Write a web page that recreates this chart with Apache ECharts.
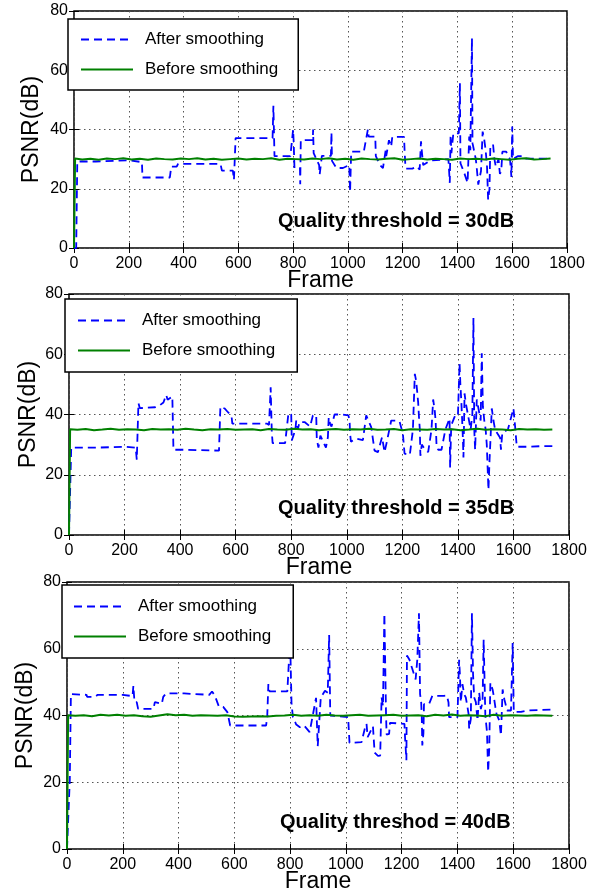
<!DOCTYPE html>
<html>
<head>
<meta charset="utf-8">
<script src="https://cdn.jsdelivr.net/npm/echarts@6/dist/echarts.min.js"></script>
<style>
  html, body { margin: 0; padding: 0; background: #fff; }
  #main { width: 601px; height: 894px; }
</style>
</head>
<body>
<div id="main"></div>
<script>
// x ticks, y ticks
const frameTicks = [0, 200, 400, 600, 800, 1000, 1200, 1400, 1600, 1800];
const psnrTicks = [0, 20, 40, 60, 80];
const seriesNames = ["After smoothing", "Before smoothing"];
const notes = ["Quality threshold = 30dB", "Quality threshold = 35dB", "Quality threshod = 40dB"];

// "After smoothing" traces, [frame, PSNR]
const after30 = [[0,0],[8,0],[12,29.2],[80,29.2],[82,29.6],[200,29.6],[205,29],[248,29],[250,23.8],[350,23.8],[355,27.5],[375,27.5],[380,28.4],[535,28.4],[540,26.1],[580,26.1],[584,23],[590,37.1],[725,37.1],[728,48],[732,31],[790,31],[800,40],[802,36],[805,27],[825,27],[826,21.5],[828,36.4],[872,36.5],[873,40],[875,32],[885,30],[895,28],[897,24.8],[905,31.1],[938,31.1],[940,39],[942,29.4],[958,27],[982,27],[1005,28],[1008,19],[1012,32.5],[1058,32.5],[1073,40],[1076,37.6],[1100,37.6],[1102,31],[1117,28],[1128,27],[1138,33],[1140,31],[1150,36.4],[1158,34.2],[1162,37.5],[1205,37.5],[1207,33],[1210,27.5],[1213,26.8],[1235,26.8],[1253,27.5],[1262,26.4],[1267,36],[1270,32.6],[1275,28],[1300,29.5],[1367,30],[1372,22],[1375,38.2],[1378,32],[1385,38.7],[1405,38.7],[1409,55.6],[1411,28.6],[1425,25.3],[1437,22],[1443,37.6],[1447,33],[1453,70.8],[1455,35.4],[1467,30],[1470,27.5],[1476,21.4],[1486,26],[1492,39.3],[1498,36.5],[1503,33],[1508,27.5],[1512,16.3],[1517,20],[1520,34],[1530,35],[1535,30],[1540,27.5],[1550,30],[1555,25],[1560,26],[1564,32.5],[1578,32.5],[1585,31],[1592,30],[1597,24],[1600,41],[1603,30],[1620,31],[1640,31],[1650,30.2],[1740,30.2]];
const after35 = [[0,0],[4,0],[8,29],[100,29],[105,29.3],[200,29.3],[240,29],[244,25],[250,43.8],[255,42.1],[310,42.4],[326,43],[340,44],[350,46.5],[355,44.9],[372,46],[376,28.3],[420,28.3],[540,28],[543,27.5],[545,42.6],[560,42],[570,41],[585,39.5],[588,37],[712,37],[720,36.5],[726,49],[730,34.3],[733,30.5],[778,30.5],[790,40.4],[800,40],[802,31.4],[815,35],[818,38],[824,35.2],[830,37.5],[848,37.5],[868,36],[878,39.7],[890,39.7],[892,31.8],[898,29],[905,33],[925,29],[932,32.5],[935,39],[940,37],[945,36],[956,40],[982,40],[1006,39.7],[1010,38],[1012,33.5],[1015,31],[1034,32],[1058,31.5],[1070,39.7],[1080,37.5],[1088,35.8],[1100,28],[1112,27.5],[1127,32.5],[1136,27.5],[1142,30],[1160,38],[1178,38],[1190,37.7],[1202,33.6],[1208,27],[1227,26.6],[1238,35],[1245,53.5],[1250,51],[1257,44],[1260,39],[1263,35],[1265,26.3],[1270,30],[1281,28.5],[1293,27.5],[1305,35],[1311,45],[1317,41],[1320,37.6],[1323,30],[1329,28.3],[1341,28.3],[1355,35],[1370,38.7],[1372,22.4],[1376,36.4],[1388,39.2],[1400,39.2],[1406,57],[1409,49.9],[1412,45],[1415,39],[1418,32],[1420,25.7],[1424,47],[1428,44],[1432,42],[1436,40],[1446,35],[1452,40],[1456,72],[1459,35],[1462,28.3],[1468,45],[1476,41],[1482,38],[1486,60.3],[1490,42.6],[1495,38],[1500,35],[1504,30],[1510,15],[1514,25],[1518,33],[1522,42],[1528,38],[1534,35],[1540,34],[1552,32.3],[1555,28.3],[1560,34],[1580,35],[1600,42],[1606,36],[1612,29.3],[1660,29.3],[1700,29.5],[1740,29.5]];
const after40 = [[0,0],[6,0],[10,20.7],[14,46.4],[70,46.2],[72,45.6],[100,45.6],[110,46.2],[200,46.2],[205,45.8],[235,45.8],[238,48.9],[242,44],[250,44],[255,42],[310,42],[315,44],[340,43.5],[345,45.6],[355,46.6],[420,46.6],[510,46.2],[520,47.2],[530,46],[545,42.6],[560,42.6],[575,41],[585,37],[714,37],[718,39.8],[722,49.4],[726,47.2],[790,47.2],[797,47],[800,63],[805,43.8],[810,39.5],[822,37.3],[835,36.5],[850,37],[870,35],[893,45.3],[899,30.8],[905,30.6],[910,45.4],[925,47.4],[935,46.8],[940,64.1],[944,40],[1008,39.5],[1013,31.8],[1056,32],[1070,36.8],[1074,37.5],[1078,33.5],[1097,36.8],[1103,28.9],[1115,27.9],[1123,28],[1128,45.4],[1133,42.8],[1138,70.5],[1144,40],[1146,34.3],[1155,34.5],[1158,37.8],[1210,37.5],[1212,33.6],[1217,26.6],[1219,58],[1228,56.7],[1238,54],[1250,50.8],[1256,56.7],[1262,70.6],[1266,46.4],[1270,43.9],[1272,40],[1274,31],[1278,34.6],[1280,43.4],[1298,43.4],[1310,45.9],[1352,45.9],[1362,46],[1368,43.9],[1370,39.5],[1400,39.5],[1406,56.7],[1409,52],[1412,44],[1418,49.4],[1424,46.4],[1430,45.4],[1436,42.5],[1440,40.4],[1442,36],[1448,39],[1452,70.6],[1456,52.3],[1460,45.4],[1466,44],[1472,38.5],[1478,46.9],[1484,41.9],[1490,44],[1494,62.7],[1500,40],[1506,35],[1510,23.1],[1514,30],[1518,49.8],[1526,47.8],[1530,45.9],[1536,42.5],[1540,40.5],[1550,38.5],[1556,34],[1562,47.8],[1568,44.9],[1578,41.5],[1592,41.5],[1598,61.7],[1602,41.1],[1628,41.1],[1650,41.5],[1740,41.8]];

// "Before smoothing" traces share one frame list
const beforeFrames = [0,4,30,60,90,120,150,180,210,240,270,300,330,360,390,420,450,480,510,540,570,600,630,660,690,720,750,780,810,840,870,900,930,960,990,1020,1050,1080,1110,1140,1170,1200,1230,1260,1290,1320,1350,1380,1410,1440,1470,1500,1530,1560,1590,1620,1650,1680,1710,1740];
const before30 = [0,30.2,29.9,30.1,29.8,30.2,30.0,30.3,29.9,30.1,
  29.8,30.2,30.0,29.9,30.2,30.0,30.3,29.9,30.1,29.8,
  30.0,30.2,29.9,30.1,30.0,30.3,29.8,30.1,30.0,29.9,
  30.2,30.0,30.3,29.9,30.1,29.8,30.2,30.0,29.9,30.1,
  30.3,29.8,30.0,30.2,29.9,30.1,30.0,29.8,30.2,30.0,
  30.1,29.9,30.2,30.0,29.8,30.1,30.3,29.9,30.0,30.2];
const before35 = [0,35.1,34.9,35.2,34.8,35.0,35.3,34.9,35.1,35.0,
  34.8,35.2,35.0,35.1,34.9,35.3,35.0,34.8,35.1,35.0,
  35.2,34.9,35.0,35.1,34.8,35.2,35.0,34.9,35.3,35.0,
  35.1,34.8,35.0,35.2,34.9,35.1,35.0,35.3,34.9,35.0,
  35.2,34.8,35.1,35.0,34.9,35.2,35.0,35.1,34.8,35.0,
  35.3,34.9,35.1,35.0,34.8,35.2,35.0,35.1,34.9,35.0];
const before40 = [0,40.1,39.9,40.1,39.8,40.2,40.0,40.2,39.9,40.1,
  39.8,39.6,40.0,40.4,40.1,40.2,39.9,40.1,40.0,39.9,
  40.1,39.7,39.6,39.7,39.8,39.7,39.9,40.0,40.2,39.9,
  40.1,39.9,40.2,40.0,39.9,40.1,40.2,39.9,40.0,40.1,
  40.2,39.9,40.0,40.1,39.8,40.2,40.0,40.3,39.9,40.1,
  40.0,39.8,40.2,39.9,40.1,40.0,39.9,40.1,40.0,39.9];

const afterSets = [after30, after35, after40];
const beforeSets = [before30, before35, before40];

const font = "'Liberation Sans', Arial, sans-serif";

// panel boxes in px
const panels = [
  { left: 74, top: 11, width: 493, height: 237, yGap: 31, legend: { left: 68, top: 19, pad: [12, 20, 12, 12] }, note: { x: 278, y: 211 } },
  { left: 69, top: 294, width: 500, height: 241, yGap: 29, legend: { left: 65, top: 299, pad: [13, 22, 13, 12] }, note: { x: 278, y: 498 } },
  { left: 67, top: 582, width: 502, height: 270, yGap: 30, legend: { left: 62, top: 585, pad: [13, 22, 13, 11] }, note: { x: 280, y: 812 } },
];

const grid = [], xAxis = [], yAxis = [], series = [], legend = [], graphic = [];

panels.forEach((p, i) => {
  grid.push({
    left: p.left, top: p.top, width: p.width, height: p.height,
    show: true, borderColor: "#000", borderWidth: 1.5, backgroundColor: "#fff",
  });
  const tick = { show: true, inside: true, length: 5, lineStyle: { color: "#000", width: 1 } };
  const dots = { show: true, lineStyle: { color: "#555", width: 1, type: [1.5, 3.5] } };
  xAxis.push({
    gridIndex: i, type: "value", min: frameTicks[0], max: frameTicks[frameTicks.length - 1],
    interval: frameTicks[1] - frameTicks[0], position: "bottom",
    axisLine: { show: false }, axisTick: tick, splitLine: dots,
    axisLabel: { color: "#000", fontSize: 16, fontFamily: font, margin: 8, formatter: (v) => String(v) },
    name: "Frame", nameLocation: "middle", nameGap: 21, nameMoveOverlap: false,
    nameTextStyle: { color: "#000", fontSize: 23, fontFamily: font },
  });
  xAxis.push({
    gridIndex: i, type: "value", min: frameTicks[0], max: frameTicks[frameTicks.length - 1],
    interval: frameTicks[1] - frameTicks[0], position: "top",
    axisLine: { show: false }, axisTick: tick, splitLine: { show: false }, axisLabel: { show: false },
  });
  yAxis.push({
    gridIndex: i, type: "value", min: psnrTicks[0], max: psnrTicks[psnrTicks.length - 1],
    interval: psnrTicks[1] - psnrTicks[0], position: "left",
    axisLine: { show: false }, axisTick: tick, splitLine: dots,
    axisLabel: { color: "#000", fontSize: 16, fontFamily: font, margin: 6 },
    name: "PSNR(dB)", nameLocation: "middle", nameGap: p.yGap, nameMoveOverlap: false,
    nameTextStyle: { color: "#000", fontSize: 23, fontFamily: font },
  });
  yAxis.push({
    gridIndex: i, type: "value", min: psnrTicks[0], max: psnrTicks[psnrTicks.length - 1],
    interval: psnrTicks[1] - psnrTicks[0], position: "right",
    axisLine: { show: false }, axisTick: tick, splitLine: { show: false }, axisLabel: { show: false },
  });

  series.push({
    name: seriesNames[0], type: "line", xAxisIndex: 2 * i, yAxisIndex: 2 * i,
    data: afterSets[i], symbol: "none", animation: false,
    lineStyle: { color: "#0000ff", width: 1.8, type: [8, 5] }, itemStyle: { color: "#0000ff" },
  });
  series.push({
    name: seriesNames[1], type: "line", xAxisIndex: 2 * i, yAxisIndex: 2 * i,
    data: beforeFrames.map((f, k) => [f, beforeSets[i][k]]), symbol: "none", animation: false,
    lineStyle: { color: "#008000", width: 2 }, itemStyle: { color: "#008000" },
  });

  legend.push({
    data: seriesNames, orient: "vertical", left: p.legend.left, top: p.legend.top,
    padding: p.legend.pad, itemGap: 13, itemWidth: 52, itemHeight: 17,
    backgroundColor: "#fff", borderColor: "#000", borderWidth: 1.5, borderRadius: 0,
    selectedMode: false, z: 10,
    itemStyle: { color: "rgba(0,0,0,0)", borderWidth: 0, opacity: 0 },
    textStyle: { color: "#000", fontSize: 17, fontFamily: font, padding: [0, 0, 0, 7] },
  });

  graphic.push({
    type: "text", left: p.note.x, top: p.note.y, z: 20,
    style: { text: notes[i], fill: "#000", font: "bold 20px " + font },
  });
});

const chart = echarts.init(document.getElementById("main"), null, { renderer: "canvas" });
chart.setOption({ backgroundColor: "#fff", animation: false, grid, xAxis, yAxis, series, legend, graphic });
</script>
</body>
</html>
